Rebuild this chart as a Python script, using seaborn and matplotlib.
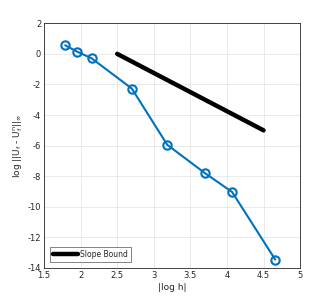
import matplotlib
matplotlib.use("Agg")
import matplotlib.pyplot as plt
import seaborn as sns
import pandas as pd

log_h = [1.79, 1.95, 2.15, 2.70, 3.185, 3.70, 4.07, 4.66]
log_err = [0.56, 0.15, -0.29, -2.27, -5.95, -7.8, -9.03, -13.45]
slope_x = [2.5, 4.5]
slope_y = [0.0, -5.0]

sns.set_style("whitegrid")
plt.rcParams['font.family'] = ['DejaVu Sans']

fig = plt.figure(figsize=(3.32, 3.02), dpi=100)
ax = fig.add_axes([0.1325, 0.1126, 0.7715, 0.8104])

df = pd.DataFrame({"x": log_h, "y": log_err})
sb = pd.DataFrame({"x": slope_x, "y": slope_y})
sns.lineplot(data=sb, x="x", y="y", ax=ax, color="black", linewidth=3.2, label="Slope Bound")
sns.lineplot(data=df, x="x", y="y", ax=ax, color="#0072BD", linewidth=1.5,
             marker="o", markersize=6, markerfacecolor="none", markeredgecolor="#0072BD",
             markeredgewidth=1.5, label="_nolegend_")

ax.set_xlim(1.5, 5)
ax.set_ylim(-14, 2)
ax.set_xticks([1.5, 2, 2.5, 3, 3.5, 4, 4.5, 5])
ax.set_xticklabels(["1.5", "2", "2.5", "3", "3.5", "4", "4.5", "5"])
ax.set_yticks(list(range(-14, 3, 2)))
ax.set_yticklabels([str(v) for v in range(-14, 3, 2)])
ax.set_xlabel("|log h|", fontsize=6.5, color="#262626", labelpad=2)
ax.set_ylabel(r"log $||\mathrm{U}_\mathrm{f}$ - $\mathrm{U}_\mathrm{f}^\mathrm{n}||_\infty$", fontsize=6.5, color="#262626", labelpad=2)
ax.tick_params(axis="both", labelsize=6, colors="#262626", direction="in", length=3, width=0.5, pad=2)
ax.grid(True, color="#e6e6e6", linewidth=0.6)
for s in ax.spines.values():
    s.set_color("#262626")
    s.set_linewidth(0.6)
    s.set_visible(True)
ax.set_facecolor("white")

leg = ax.legend(loc="lower left", fontsize=5.5, frameon=True, fancybox=False,
                handlelength=3.2, borderpad=0.4, handletextpad=0.3,
                bbox_to_anchor=(0.0, 0.0), borderaxespad=0.8)
leg.get_frame().set_edgecolor("#262626")
leg.get_frame().set_linewidth(0.5)

fig.savefig("out.png", dpi=100)
